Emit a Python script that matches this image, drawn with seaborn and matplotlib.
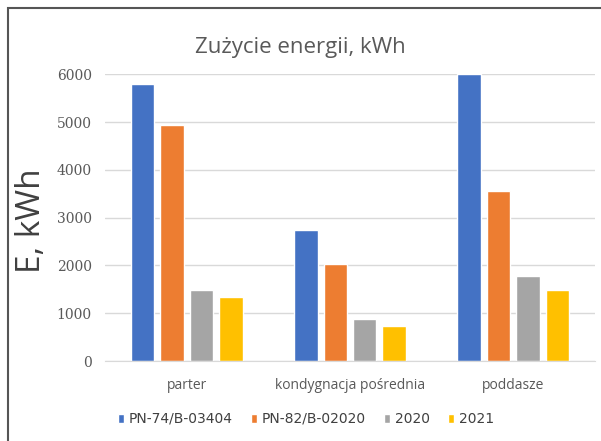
import pandas as pd
import matplotlib.pyplot as plt
import seaborn as sns
from matplotlib.patches import Rectangle

# dane
categories = ['parter', 'kondygnacja pośrednia', 'poddasze']
series = ['PN-74/B-03404', 'PN-82/B-02020', '2020', '2021']
pn74 = [5790, 2740, 6000]
pn82 = [4950, 2020, 3550]
y2020 = [1490, 870, 1780]
y2021 = [1350, 730, 1490]
colors = ['#4472C4', '#ED7D31', '#A5A5A5', '#FFC000']

rows = []
for name, vals in zip(series, [pn74, pn82, y2020, y2021]):
    for cat, v in zip(categories, vals):
        rows.append({'kategoria': cat, 'seria': name, 'E': v})
df = pd.DataFrame(rows)

sns.set_style('white')
fig = plt.figure(figsize=(6.01, 4.41), dpi=100)
ax = fig.add_axes([0.1747, 0.1814, 0.8153, 0.650])

sns.barplot(data=df, x='kategoria', y='E', hue='seria', order=categories,
            hue_order=series, palette=colors, width=0.72, gap=0.2,
            saturation=1, ax=ax)

ax.set_ylim(0, 6000)
ax.set_yticks(range(0, 6001, 1000))
ax.yaxis.grid(True, color='#d9d9d9', linewidth=1)
ax.set_axisbelow(True)
for s in ['top', 'right', 'left']:
    ax.spines[s].set_visible(False)
ax.spines['bottom'].set_color('#d9d9d9')
ax.tick_params(axis='both', length=0)
ax.tick_params(axis='y', pad=9.5)
ax.tick_params(axis='x', pad=12)
for lbl in ax.get_yticklabels():
    lbl.set_fontfamily('DejaVu Serif')
    lbl.set_fontsize(10)
    lbl.set_color('#595959')
for lbl in ax.get_xticklabels():
    lbl.set_fontfamily('Open Sans')
    lbl.set_fontsize(10)
    lbl.set_color('#595959')
ax.set_xlabel('')
ax.set_ylabel('')

fig.text(32 / 601, 1 - 221 / 441, 'E, kWh', rotation=90, ha='center', va='center',
         fontsize=24, color='#404040', family='Open Sans')
fig.text(300 / 601, 1 - 47 / 441, 'Zużycie energii, kWh', ha='center', va='center',
         fontsize=16, color='#595959', family='Open Sans')

handles, labels = ax.get_legend_handles_labels()
ax.legend(handles, labels, ncol=4, frameon=False, loc='center',
          bbox_to_anchor=(306 / 601, 1 - 419 / 441), bbox_transform=fig.transFigure,
          handlelength=0.45, handleheight=0.6, handletextpad=0.35, columnspacing=1.3,
          prop={'family': 'DejaVu Sans', 'size': 10}, labelcolor='#404040')

fig.patches.append(Rectangle((7.5 / 601, -0.05), 1.1, 1 - 7.5 / 441 + 0.05,
                             transform=fig.transFigure, fill=False,
                             edgecolor='#555555', linewidth=1.5))

fig.savefig('out.png', dpi=100)
